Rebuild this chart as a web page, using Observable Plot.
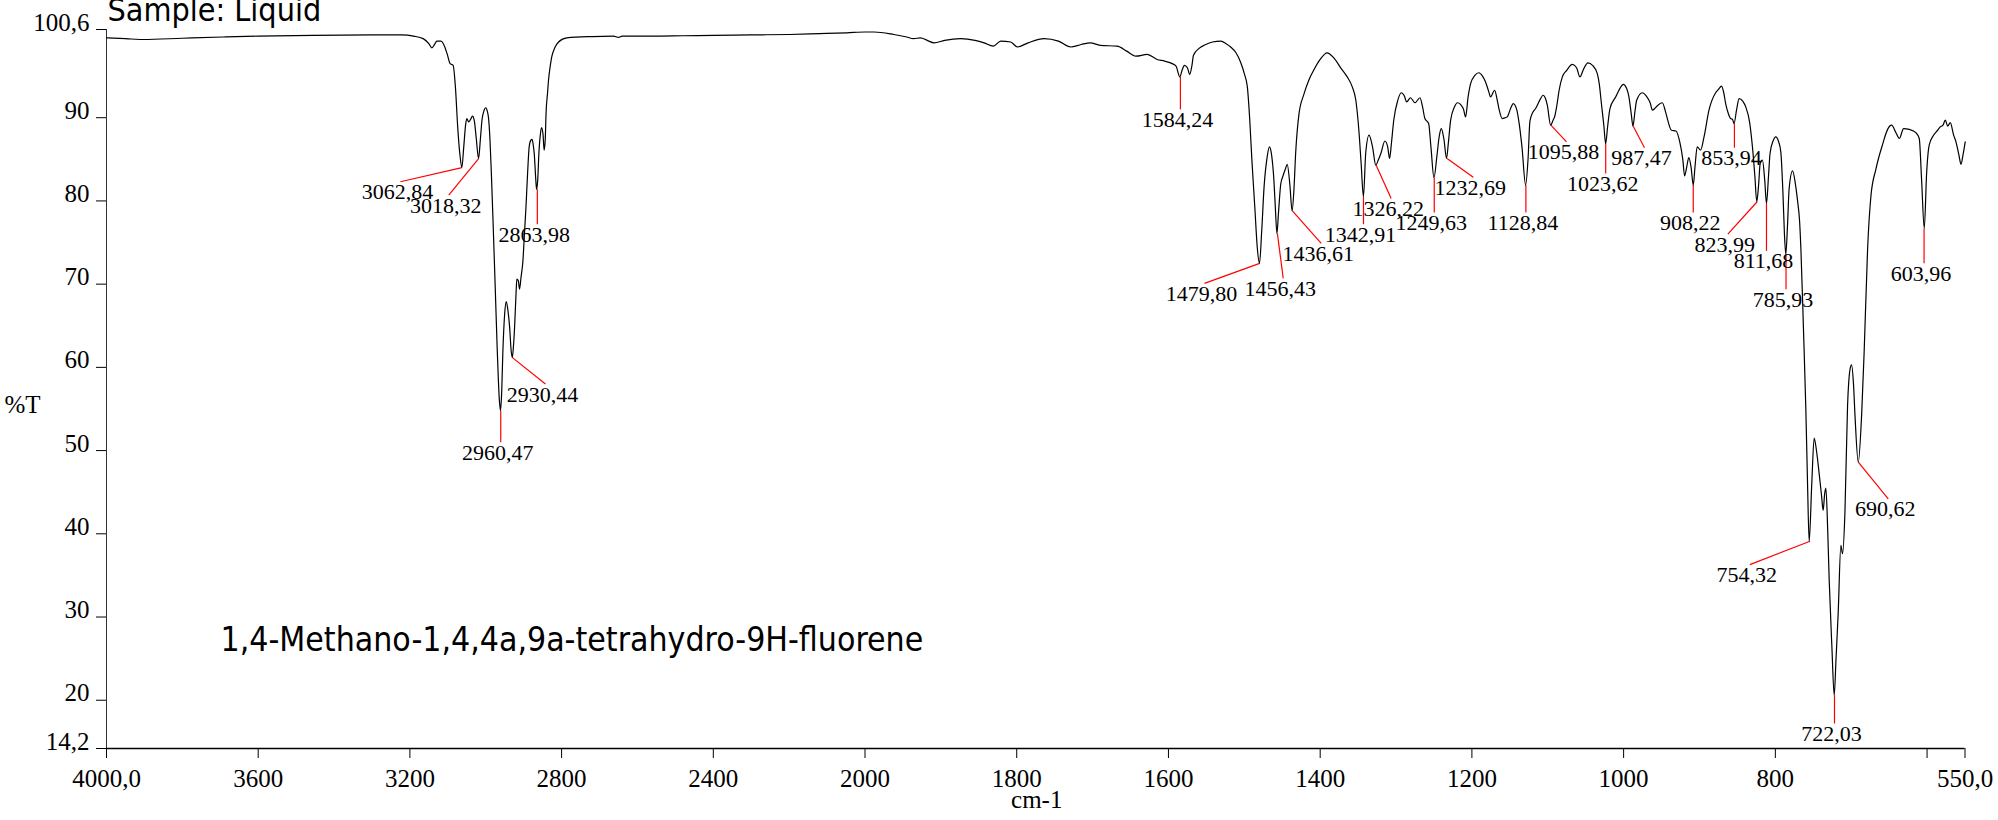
<!DOCTYPE html>
<html>
<head>
<meta charset="utf-8">
<script src="https://cdn.jsdelivr.net/npm/d3@7"></script>
<script src="https://cdn.jsdelivr.net/npm/@observablehq/plot@0.6"></script>
<style>
  html, body { margin: 0; padding: 0; background: #fff; }
  #chart { width: 1998px; height: 820px; }
  #chart g[aria-label="x-axis tick label"], #chart g[aria-label="y-axis tick label"] {
    font-family: 'Liberation Serif', 'Times New Roman', serif !important;
  }
</style>
</head>
<body>
<div id="chart"></div>
<script>
// ---- Spectrum (wavenumber cm-1, %T) ----
const wavenumber = [
  4000, 3950, 3903, 3800, 3692, 3600, 3456, 3300, 3221, 3190, 3165, 3150, 3142, 3135, 3129, 3118, 3108, 3102,
  3094, 3086, 3080, 3074, 3068, 3063, 3058, 3053, 3050, 3045, 3040, 3035, 3030, 3025, 3019, 3014, 3010, 3005,
  3000, 2996, 2993, 2989, 2985.5, 2980, 2975, 2970, 2964, 2961, 2958, 2955, 2950, 2946, 2942, 2937, 2933, 2930,
  2927, 2924, 2920, 2918, 2914, 2911, 2907, 2902, 2898, 2894, 2890, 2885.5, 2881, 2878, 2875, 2872, 2868, 2866,
  2863, 2860, 2856, 2853, 2849, 2846, 2843, 2841, 2837, 2834.5, 2830, 2826, 2818, 2808, 2786, 2720, 2663, 2650,
  2640, 2560, 2480, 2400, 2300, 2200, 2120, 2048, 2000, 1988, 1962, 1945, 1936, 1927, 1918, 1909, 1895, 1874,
  1855, 1843, 1831, 1821, 1808, 1799, 1785, 1764, 1745, 1729, 1715, 1703, 1690, 1667.5, 1655, 1643, 1628, 1615,
  1605, 1595, 1590, 1585, 1582, 1579, 1575, 1572, 1569, 1567, 1560, 1553, 1542, 1531, 1524, 1518, 1511, 1505,
  1500, 1496, 1493, 1490, 1486, 1483, 1480, 1477, 1474, 1470, 1467, 1464, 1461, 1459, 1457, 1455, 1452, 1449,
  1446, 1443.4, 1440, 1437, 1434.5, 1432.4, 1428, 1421.5, 1415, 1408, 1400, 1391, 1382, 1373, 1365, 1357.7, 1353,
  1349, 1346, 1343, 1340, 1335.6, 1331, 1326.7, 1323, 1320, 1314.7, 1311, 1308.5, 1306, 1303, 1298, 1293, 1289,
  1286, 1281, 1275, 1268.5, 1265, 1262, 1257, 1254, 1250, 1246, 1243, 1240.4, 1237, 1233.4, 1231, 1228, 1223,
  1219, 1215, 1211, 1208.3, 1205, 1201.7, 1196, 1190.8, 1186, 1182, 1178, 1175.4, 1170, 1167, 1164.4, 1160, 1156,
  1153.4, 1149, 1145.5, 1141, 1138, 1134, 1129.2, 1126, 1123.5, 1120, 1116, 1110, 1106, 1103, 1100.6, 1096.2,
  1093, 1091, 1088, 1085, 1080.8, 1075, 1067.6, 1062, 1057.6, 1053, 1047, 1041, 1034.7, 1032, 1029.4, 1026,
  1023.7, 1021, 1018, 1010.5, 1005, 1000.4, 996, 993, 990, 987.7, 985, 982.8, 975.3, 970, 965, 962, 959, 957,
  949, 945, 942.4, 937, 931, 925.8, 922, 919.6, 917, 914, 911, 908.2, 906, 903, 898.5, 894, 887.5, 878.7, 875,
  871, 868, 865.5, 862, 859, 856.5, 854.5, 851, 847.8, 843, 839, 834, 830.2, 827, 824.5, 822, 820, 817, 814,
  811.7, 809, 807, 803, 799.4, 796, 792.8, 790, 788, 786.2, 784, 781.8, 777.3, 773.5, 770.7, 768, 766.3, 762.8,
  759.8, 757.6, 755.4, 752, 748.8, 745.5, 742.2, 739, 737, 735, 733.4, 731, 729, 725.5, 722.4, 720, 717.2, 713.6,
  711.4, 708.3, 704.8, 701.5, 699.5, 697, 695, 690.7, 686.3, 682.8, 678.4, 674, 667.5, 658.6, 652, 646.8, 641,
  636.6, 630.9, 623.5, 614.7, 610.3, 607.2, 603.7, 600.6, 597.2, 591.4, 587, 582.6, 579, 576, 572.8, 569.4, 565,
  561.9, 558, 555.3, 552.5, 549.7
];
const transmittance = [
  99.6, 99.5, 99.4, 99.55, 99.7, 99.8, 99.9, 99.95, 99.95, 99.8, 99.5, 98.9, 98.4, 98.8, 99.2, 99.2, 98.5, 97.7,
  96.5, 96.3, 93.7, 88.9, 85.5, 84.0, 86.5, 89.2, 89.9, 89.5, 89.8, 90.2, 89.6, 87.5, 85.1, 87.5, 89.7, 90.8,
  91.2, 90.8, 90.1, 87.5, 83.7, 76.5, 69.6, 62.5, 56.0, 54.8, 57.0, 61.7, 66.5, 67.9, 67.0, 64.8, 62.0, 61.2,
  62.5, 64.8, 69.0, 70.6, 70.4, 69.4, 70.8, 72.8, 76.0, 79.2, 83.0, 86.5, 87.3, 87.4, 86.8, 85.6, 82.5, 81.4,
  82.5, 85.6, 88.0, 88.8, 88.0, 86.1, 87.5, 90.5, 93.0, 94.5, 96.2, 97.3, 98.4, 99.1, 99.6, 99.75, 99.8, 99.65,
  99.8, 99.8, 99.85, 99.9, 99.95, 100.0, 100.1, 100.2, 100.3, 100.3, 100.0, 99.7, 99.5, 99.6, 99.3, 99.0, 99.3, 99.5,
  99.3, 99.0, 98.6, 99.2, 99.1, 98.5, 99.0, 99.5, 99.2, 98.5, 98.8, 99.0, 98.7, 98.6, 98.0, 97.4, 97.6, 97.0,
  96.8, 96.5, 96.2, 94.9, 95.7, 96.3, 96.0, 95.2, 96.3, 97.5, 98.3, 98.7, 99.1, 99.2, 98.9, 98.5, 97.8, 96.7,
  95.3, 93.7, 90.0, 84.9, 79.0, 74.5, 72.5, 76.5, 81.6, 85.2, 86.5, 85.5, 82.5, 79.0, 76.1, 78.5, 82.0, 83.0,
  83.8, 84.4, 82.0, 78.8, 81.5, 85.6, 90.4, 92.8, 94.5, 95.8, 97.0, 97.8, 97.2, 96.0, 95.0, 93.7, 92.1,
  88.5, 84.5, 80.5, 85.7, 87.9, 86.5, 84.3, 85.0, 85.7, 87.2, 86.5, 85.1, 87.0, 89.7, 92.0, 93.0, 92.6,
  91.9, 92.4, 91.8, 92.4, 91.3, 89.9, 89.3, 86.5, 82.8, 85.5, 87.8, 88.7, 87.5, 85.1, 87.0, 89.7, 91.3,
  91.8, 91.6, 91.0, 90.1, 92.5, 94.1, 95.1, 95.4, 95.0, 94.3, 93.2, 92.5, 93.3, 92.3, 91.1, 89.9, 90.0,
  90.1, 91.1, 91.7, 91.0, 89.5, 86.5, 81.9, 85.0, 89.6, 90.6, 91.1, 92.2, 92.7, 92.3, 91.5, 89.1,
  89.7, 90.1, 91.5, 93.3, 94.9, 95.7, 96.4, 96.0, 94.9, 95.8, 96.6, 96.3, 95.3, 94.0, 91.8, 89.0,
  86.9, 89.0, 91.1, 92.5, 93.5, 94.0, 93.5, 92.5, 90.5, 89.0, 90.8, 92.1, 93.0, 92.6, 91.8, 90.9, 91.1, 91.3,
  91.8, 90.8, 89.9, 88.5, 88.4, 87.0, 85.0, 83.0, 84.0, 85.2, 84.0, 81.9, 84.0, 86.5, 86.1, 87.7, 90.9, 93.0, 93.4,
  93.8, 93.0, 91.7, 90.5, 89.9, 89.8, 89.3, 91.0, 92.3, 92.0, 91.3, 89.5, 86.5, 83.0, 79.9, 82.0, 84.5, 84.9, 82.5,
  79.7, 83.0, 85.7, 87.2, 87.7, 87.2, 85.9, 81.0, 76.0, 73.6, 77.0, 81.5, 83.6, 82.0, 80.0, 77.5, 74.2, 64.2,
  55.0, 46.2, 39.1, 46.0, 51.5, 49.8, 47.2, 44.5, 42.8, 44.8, 45.5, 40.5, 34.4, 26.5, 20.6, 25.0, 30.4, 38.6,
  37.6, 42.5, 55.4, 59.8, 60.3, 58.0, 54.2, 48.6, 54.2, 62.2, 74.2, 80.6, 83.8, 86.8, 88.6, 89.1, 88.2,
  87.5, 88.7, 88.6, 88.2, 87.5, 82.5, 76.7, 83.3, 86.7, 87.9, 88.4, 88.9, 89.1, 89.7, 89.0, 89.4, 87.9,
  87.1, 85.5, 84.4, 85.6, 87.1
];

// ---- Peak annotations ----
const peakWn = [3062.84, 3018.32, 2960.47, 2930.44, 2863.98, 1584.24, 1479.80, 1456.43, 1436.61, 1342.91,
  1326.22, 1249.63, 1232.69, 1128.84, 1095.88, 1023.62, 987.47, 908.22, 853.94, 823.99, 811.68, 785.93,
  754.32, 722.03, 690.62, 603.96];
const peakT = [84.0, 85.1, 54.8, 61.2, 81.4, 94.9, 72.5, 76.1, 78.8, 80.5, 84.3, 82.8, 85.1, 81.9, 89.1,
  86.9, 89.0, 81.9, 89.3, 79.9, 79.7, 73.6, 39.1, 20.6, 48.6, 76.7];
const labelWn = [3225, 3097.5, 2960.47, 2842.6, 2863.98, 1584.24, 1552.5, 1448.7, 1398.6, 1342.91,
  1306.4, 1249.63, 1198.2, 1128.84, 1075.3, 1023.62, 972.5, 908.22, 853.94, 862.6, 811.68, 785.93,
  833.6, 722.03, 651.2, 603.96];
const labelT = [82.3, 80.7, 51.0, 58.0, 77.2, 91.0, 70.1, 70.7, 74.9, 77.2, 80.3, 78.6, 82.85, 78.6, 87.1,
  83.3, 86.4, 78.6, 86.4, 76.0, 74.0, 69.4, 36.3, 17.2, 44.2, 72.5];

// ---- Axes ----
const xTicks = [4000, 3600, 3200, 2800, 2400, 2000, 1800, 1600, 1400, 1200, 1000, 800, 600, 550];
const xTickLabels = ["4000,0", "3600", "3200", "2800", "2400", "2000", "1800", "1600", "1400", "1200", "1000", "800", "", "550,0"];
const yTicks = [100.6, 90, 80, 70, 60, 50, 40, 30, 20, 14.2];
const yTickLabels = ["100,6", "90", "80", "70", "60", "50", "40", "30", "20", "14,2"];

const title = "Sample: Liquid";
const compound = "1,4-Methano-1,4,4a,9a-tetrahydro-9H-fluorene";
const xLabel = "cm-1";
const yLabel = "%T";

// ---- Build tables ----
const spectrum = wavenumber.map((w, i) => ({w, t: transmittance[i]}));
const peaks = peakWn.map((w, i) => ({
  w, t: peakT[i], lw: labelWn[i], lt: labelT[i],
  label: w.toFixed(2).replace(".", ",")
}));
const xFmt = new Map(xTicks.map((d, i) => [d, xTickLabels[i]]));
const yFmt = new Map(yTicks.map((d, i) => [d, yTickLabels[i]]));

const serif = "'Liberation Serif', 'Times New Roman', serif";
const comic = "'DejaVu Sans Condensed', 'DejaVu Sans', sans-serif";

const plot = Plot.plot({
  width: 1998,
  height: 820,
  marginLeft: 106,
  marginRight: 33.5,
  marginTop: 29,
  marginBottom: 72,
  style: {fontFamily: serif, fontSize: "25px", color: "#000", background: "#fff", overflow: "visible"},
  // IR spectra: 4000–2000 cm-1 drawn at half the scale of 2000–550 cm-1 (piecewise linear)
  x: {type: "linear", domain: [4000, 2000, 550], range: [106, 864.5, 1964.5]},
  y: {type: "linear", domain: [14.2, 100.6]},
  marks: [
    Plot.ruleX([4000], {stroke: "#333", strokeWidth: 1}),
    Plot.ruleY([14.2], {stroke: "#000", strokeWidth: 1.3}),
    Plot.axisX({ticks: xTicks, tickSize: 10, tickPadding: 11, tickFormat: d => xFmt.get(d),
      label: null, stroke: "#000", fontSize: 25, fontFamily: serif}),
    Plot.axisY({ticks: yTicks, tickSize: 10, tickFormat: () => "", label: null, stroke: "#000"}),
    Plot.axisY({ticks: yTicks, tickSize: 0, tickPadding: 17, dy: -7, tickFormat: d => yFmt.get(d),
      label: null, fontSize: 25, fontFamily: serif}),
    Plot.link(peaks, {x1: "w", y1: "t", x2: "lw", y2: "lt", stroke: "#ff0000", strokeWidth: 1.2}),
    Plot.line(spectrum, {x: "w", y: "t", stroke: "#000", strokeWidth: 1.2, curve: "monotone-x"}),
    Plot.text(peaks, {x: "lw", y: "lt", text: "label", lineAnchor: "top", dy: 2, dx: -3,
      fontSize: 22, fontFamily: serif, fill: "#000"}),
    Plot.text([yLabel], {text: d => d, frameAnchor: "left", dx: -84, dy: 16, textAnchor: "middle",
      fontSize: 25, fontFamily: serif}),
    Plot.text([xLabel], {text: d => d, frameAnchor: "bottom", dx: 1, dy: 59, textAnchor: "middle",
      fontSize: 25, fontFamily: serif}),
    Plot.text([title], {text: d => d, frameAnchor: "top-left", dx: 1, dy: -31, textAnchor: "start",
      fontSize: 32, fontFamily: comic}),
    Plot.text([compound], {text: d => d, frameAnchor: "top-left", dx: 114, dy: 598, textAnchor: "start",
      fontSize: 33.5, fontFamily: comic})
  ]
});
document.getElementById("chart").appendChild(plot);
</script>
</body>
</html>
